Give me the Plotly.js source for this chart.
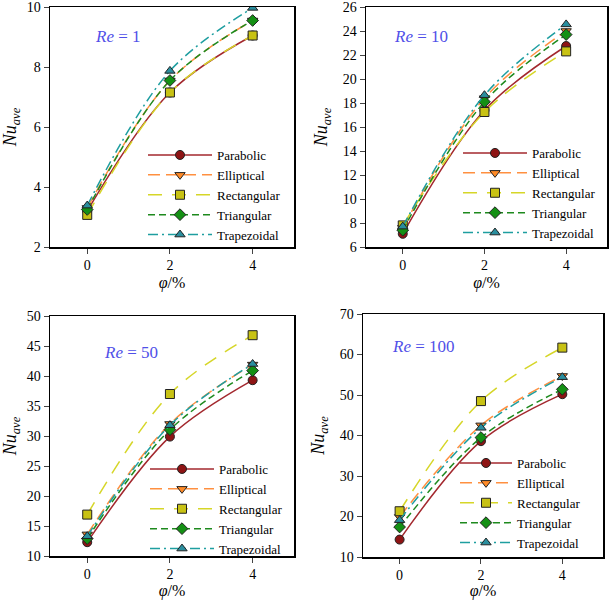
<!DOCTYPE html>
<html><head><meta charset="utf-8">
<script src="https://cdn.plot.ly/plotly-3.0.1.min.js"></script>
<style>html,body{margin:0;padding:0;background:#fff}</style>
</head><body><div id="chart" style="width:611px;height:600px"></div>
<script>
const phi = [0, 2, 4];
const seriesNames = ['Parabolic', 'Elliptical', 'Rectangular', 'Triangular', 'Trapezoidal'];
// Nu_ave values per panel (Re = 1, 10, 50, 100), order of seriesNames
const re1 = [[3.2, 7.15, 9.05], [3.3, 7.55, 9.55], [3.07, 7.15, 9.05], [3.25, 7.55, 9.55], [3.38, 7.87, 9.97]];
const re10 = [[7.1, 17.4, 22.75], [7.6, 18.4, 24.0], [7.8, 17.25, 22.3], [7.4, 18.1, 23.7], [7.7, 18.65, 24.55]];
const re50 = [[12.3, 29.9, 39.3], [13.6, 32.0, 41.9], [16.9, 37.0, 46.8], [12.9, 31.05, 40.9], [13.3, 31.8, 42.0]];
const re100 = [[14.3, 38.6, 50.2], [19.9, 42.5, 54.7], [21.3, 48.5, 61.7], [17.4, 39.5, 51.4], [19.1, 41.9, 54.4]];
const panels = [re1, re10, re50, re100];
const reLabels = ['1', '10', '50', '100'];
const yTicks = [[2, 4, 6, 8, 10], [6, 8, 10, 12, 14, 16, 18, 20, 22, 24, 26],
                [10, 15, 20, 25, 30, 35, 40, 45, 50], [10, 20, 30, 40, 50, 60, 70]];
const xTicks = [0, 2, 4];

const lineColors = ['#A3282E', '#FF9040', '#D6D628', '#1E8A1E', '#1E9EA0'];
const markerColors = ['#8E1414', '#FF8A26', '#C8C214', '#149014', '#2A8E9E'];
const symbols = ['circle', 'triangle-down', 'square', 'diamond', 'triangle-up'];
const dashes = ['solid', '12px,6px', '14px,10px', '7px,4px', '10px,4px,2px,4px'];

const serif = 'Liberation Serif';
const W = 611, H = 600;
// panel boxes in px: [left, right, top, bottom]
const boxes = [[50, 294, 7, 247], [366, 607, 7, 247], [50, 294, 316, 556], [363, 603, 314, 557]];
const legendPos = [[143, 140], [458, 138], [145, 454], [455, 448]];
const legendItemW = [64, 64, 64, 52];
const annPos = [[118, 36], [421, 36], [131, 352], [423, 346]];

const traces = [];
const layout = {
  width: W, height: H, margin: {l: 0, r: 0, t: 0, b: 0},
  paper_bgcolor: '#fff', plot_bgcolor: '#fff', showlegend: true,
  font: {family: serif, size: 13, color: '#000'},
  annotations: []
};
panels.forEach((data, p) => {
  const ax = p === 0 ? '' : String(p + 1);
  const lg = p === 0 ? 'legend' : 'legend' + (p + 1);
  data.forEach((vals, i) => {
    traces.push({
      x: phi, y: vals, name: seriesNames[i], type: 'scatter', mode: 'lines+markers',
      xaxis: 'x' + ax, yaxis: 'y' + ax, legend: lg,
      line: {color: lineColors[i], width: 1.5, dash: dashes[i], shape: 'spline', smoothing: 1},
      marker: {symbol: symbols[i], size: 9, color: markerColors[i], line: {color: '#222', width: 1}}
    });
  });
  const b = boxes[p];
  const yt = yTicks[p];
  layout['xaxis' + ax] = {
    domain: [b[0] / W, b[1] / W], anchor: 'y' + ax, range: [-0.9, 5],
    tickmode: 'array', tickvals: xTicks, ticks: 'outside', ticklen: 5, tickwidth: 1,
    ticklabeloverflow: 'allow',
    showline: true, linewidth: 1.5, linecolor: '#000', mirror: true, showgrid: false, zeroline: false,
    tickfont: {family: serif, size: 14},
    title: {text: '<i>φ</i>/%', font: {family: serif, size: 16}, standoff: 4}
  };
  layout['yaxis' + ax] = {
    domain: [1 - b[3] / H, 1 - b[2] / H], anchor: 'x' + ax,
    range: [yt[0], yt[yt.length - 1] + 1e-6 * (yt[yt.length - 1] - yt[0])],
    tickmode: 'array', tickvals: yt, ticklabeloverflow: 'allow',
    ticks: 'outside', ticklen: 5, tickwidth: 1,
    showline: true, linewidth: 1.5, linecolor: '#000', mirror: true, showgrid: false, zeroline: false,
    tickfont: {family: serif, size: 14},
    title: {text: '<i>Nu</i><sub><i>ave</i></sub>', font: {family: serif, size: 18}, standoff: 10}
  };
  layout[lg] = {
    x: legendPos[p][0] / W, y: 1 - legendPos[p][1] / H, xanchor: 'left', yanchor: 'top',
    bgcolor: 'rgba(0,0,0,0)', borderwidth: 0, font: {family: serif, size: 13},
    itemwidth: legendItemW[p], tracegroupgap: 0
  };
  layout.annotations.push({
    xref: 'paper', yref: 'paper', x: annPos[p][0] / W, y: 1 - annPos[p][1] / H,
    xanchor: 'center', yanchor: 'middle', showarrow: false,
    text: '<i>Re</i> = ' + reLabels[p], font: {family: serif, size: 17, color: '#5050E8'}
  });
});
Plotly.newPlot('chart', traces, layout, {staticPlot: true});
</script></body></html>
